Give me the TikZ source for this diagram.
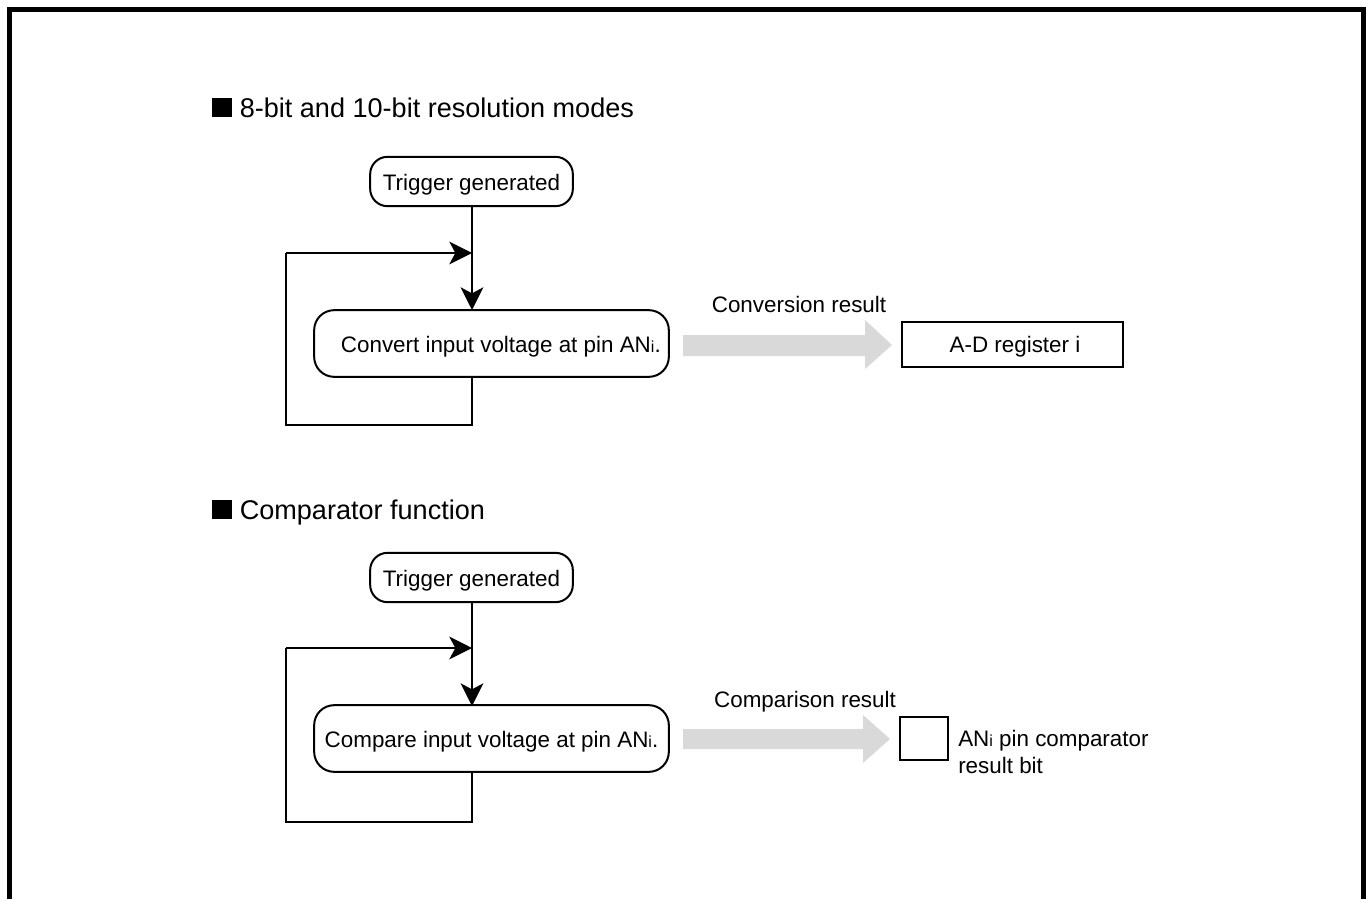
\documentclass[tikz,border=0pt]{standalone}
\usepackage{fontspec}
\setmainfont{Liberation Sans}
\usetikzlibrary{arrows.meta}
\newcommand{\subi}{{\fontsize{12}{12}\selectfont i}}
\begin{document}
\begin{tikzpicture}[x=0.75pt,y=-0.75pt,
  every node/.style={font=\fontsize{16.8}{20}\selectfont},
  flowline/.style={line width=1.5pt},
  flowarrow/.style={line width=1.5pt,-{Stealth[length=17pt,width=17pt,inset=4.5pt]}},
  pill/.style={draw,line width=1.5pt,rounded corners=13pt,minimum width=152pt,minimum height=37pt,inner sep=0pt,text depth=0pt,text height=14pt},
  procbox/.style={draw,line width=1.5pt,rounded corners=15pt,minimum width=266pt,minimum height=50pt,inner sep=0pt,text depth=0pt,text height=14pt},
  regbox/.style={draw,line width=1.5pt,inner sep=0pt},
  heading/.style={anchor=base west,inner sep=0pt,font=\fontsize{20.3}{24}\selectfont},
  label/.style={anchor=base,inner sep=0pt},
  grayarrow/.style={fill=black!15,draw=none}
]
\useasboundingbox (0,0) rectangle (1369,899);
% outer frame
\draw[line width=3.75pt] (9.5,899) -- (9.5,9.5) -- (1363.5,9.5) -- (1363.5,899);

% ---------- section 1 ----------
\node[heading] (h1) at (212,117) {\rule{15pt}{14.5pt} 8-bit and 10-bit resolution modes};
\node[pill] (trig1) at (471.5,181.5) {Trigger generated};
\node[procbox] (conv) at (491.5,343.5) {\hspace{14pt}Convert input voltage at pin AN\subi.};
\coordinate (loop1a) at (286,425);
\coordinate (loop1b) at (286,253);
\draw[flowarrow] (472,206) -- (472,310);
\draw[flowline] (472,377) -- (472,425) -- (loop1a) -- (loop1b);
\draw[flowarrow] (loop1b) -- (472,253);
\path[grayarrow] (683,335) -- (865,335) -- (865,320) -- (892,345) -- (865,369) -- (865,356) -- (683,356) -- cycle;
\node[label] (convres) at (799,312) {Conversion result};
\node[regbox,minimum width=165.75pt,minimum height=33.75pt] (adreg) at (1012.5,344.5) {};
\node[label] (adregtxt) at (1015,352) {A-D register i};

% ---------- section 2 ----------
\node[heading] (h2) at (212,519) {\rule{15pt}{14.5pt} Comparator function};
\node[pill] (trig2) at (471.5,577.5) {Trigger generated};
\node[procbox] (comp) at (491.5,738.5) {Compare input voltage at pin AN\subi.};
\coordinate (loop2a) at (286,822);
\coordinate (loop2b) at (286,648);
\draw[flowarrow] (472,602) -- (472,706);
\draw[flowline] (472,771) -- (472,822) -- (loop2a) -- (loop2b);
\draw[flowarrow] (loop2b) -- (472,648);
\path[grayarrow] (683,729) -- (863,729) -- (863,715) -- (890,739) -- (863,763) -- (863,749) -- (683,749) -- cycle;
\node[label] (compres) at (805,707) {Comparison result};
\node[regbox,minimum width=36pt,minimum height=32pt] (bit) at (924,738.5) {};
\node[anchor=base west,inner sep=0pt,align=left] (bittxt) at (958,773) {AN\subi{} pin comparator\\result bit};
\end{tikzpicture}
\end{document}
